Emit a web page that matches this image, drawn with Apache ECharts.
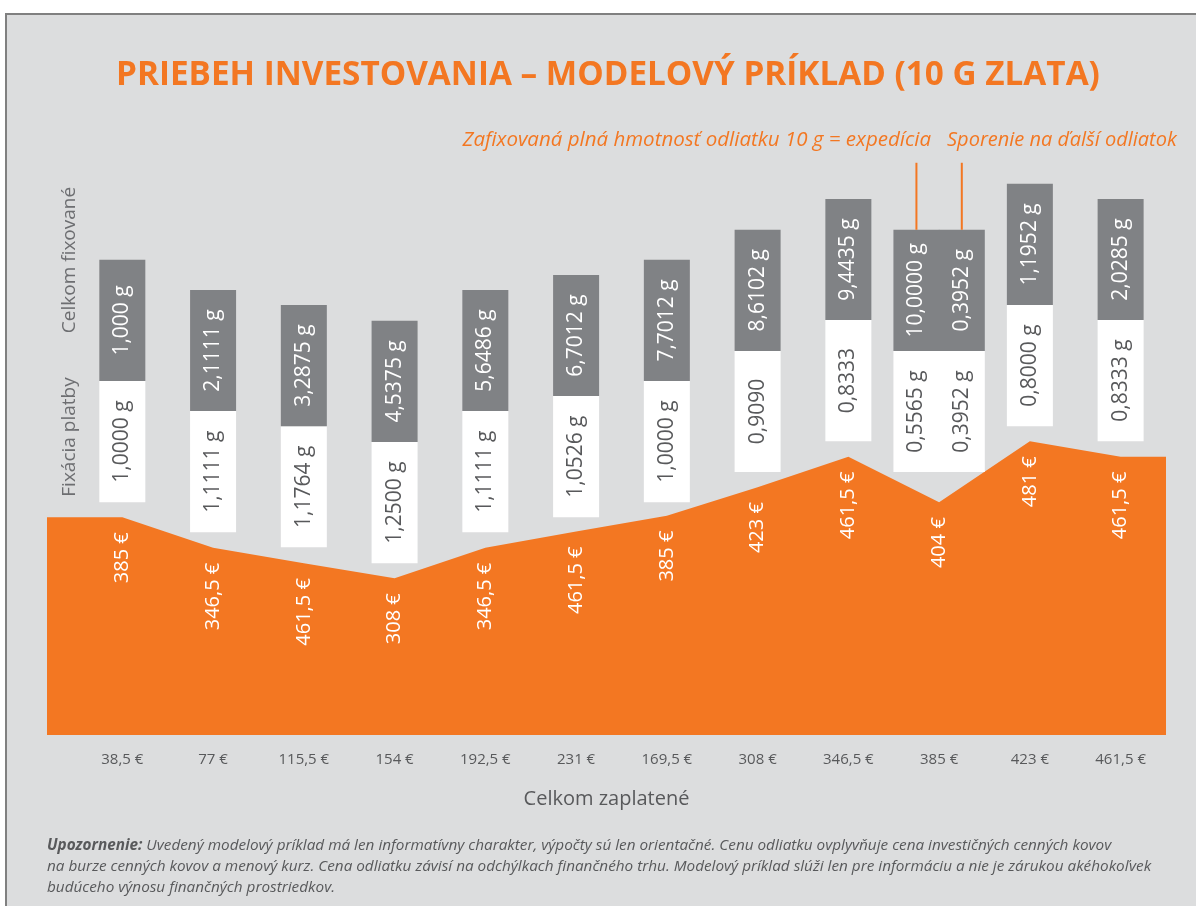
<!DOCTYPE html>
<html>
<head>
<meta charset="utf-8">
<title>Priebeh investovania</title>
<script src="https://cdn.jsdelivr.net/npm/echarts@6/dist/echarts.min.js"></script>
<style>
	html, body { margin: 0; padding: 0; background: #fff; }
	#frame { position: absolute; left: 5px; top: 13px; right: 0; bottom: 0; background: #dcddde; border-top: 2px solid #808080; border-left: 2px solid #808080; }
	#chart { position: absolute; left: 0; top: 0; width: 1196px; height: 906px; }
</style>
</head>
<body>
<div id="frame"></div>
<div id="chart"></div>
<script>
// popisky osi x - celkom zaplatene
var xLabels = ['38,5 €', '77 €', '115,5 €', '154 €', '192,5 €', '231 €', '169,5 €', '308 €', '346,5 €', '385 €', '423 €', '461,5 €'];
// aktualna cena odliatku - text v oranzovej ploche
var priceLabels = ['385 €', '346,5 €', '461,5 €', '308 €', '346,5 €', '461,5 €', '385 €', '423 €', '461,5 €', '404 €', '481 €', '461,5 €'];
// vyska oranzovej plochy (EUR), odcitane z obrazku
var priceLevel = [385, 346.5, 327, 308, 346.5, 367, 387, 423, 461.5, 404, 481, 461.5];

// stlpce (10. stlpec je rozdeleny na dva)
var barX = [1, 2, 3, 4, 5, 6, 7, 8, 9, 9.75, 10.25, 11, 12];
// spodok bieleho boxu (EUR)
var barBase = [404, 366, 347, 327, 366, 385, 404, 442, 481, 442, 442, 500, 481];
// Fixacia platby
var fixLabels = ['1,0000 g', '1,1111 g', '1,1764 g', '1,2500 g', '1,1111 g', '1,0526 g', '1,0000 g', '0,9090', '0,8333', '0,5565 g', '0,3952 g', '0,8000 g', '0,8333 g'];
// Celkom fixovane
var totalLabels = ['1,000 g', '2,1111 g', '3,2875 g', '4,5375 g', '5,6486 g', '6,7012 g', '7,7012 g', '8,6102 g', '9,4435 g', '10,0000 g', '0,3952 g', '1,1952 g', '2,0285 g'];

var ORANGE = '#f37722';
var GRAY = '#808285';
var DARK = '#58595b';
var FONT = '"Open Sans", "Noto Sans", sans-serif';
var SEG = 153;          // vyska boxu v jednotkach osi y
var X_MIN = 0.17, X_MAX = 12.5;
var POINTED = [9, 10];  // stlpce s ciarou k popisu

window.GoldChart = (function(module) {

	function init() {
		var myChart = echarts.init(document.getElementById('chart'));
		myChart.setOption(buildOption());
	}

	// biely a sivy box
	function renderBar(params, api) {
		var i = params.dataIndex;
		var x = api.value(0), b = api.value(1);
		var p0 = api.coord([x, b]);
		var p1 = api.coord([x, b + SEG]);
		var p2 = api.coord([x, b + 2 * SEG]);
		var w = 46;
		var font = '21px ' + FONT;
		var children = [
			{type: 'rect', shape: {x: p0[0] - w / 2, y: p1[1], width: w, height: p0[1] - p1[1]}, style: {fill: '#fff'}},
			{type: 'rect', shape: {x: p0[0] - w / 2, y: p2[1], width: w, height: p1[1] - p2[1]}, style: {fill: GRAY}},
			{type: 'text', x: p0[0], y: (p0[1] + p1[1]) / 2, rotation: Math.PI / 2,
				style: {text: fixLabels[i], fill: DARK, font: font, align: 'center', verticalAlign: 'middle'}},
			{type: 'text', x: p0[0], y: (p1[1] + p2[1]) / 2, rotation: Math.PI / 2,
				style: {text: totalLabels[i], fill: '#fff', font: font, align: 'center', verticalAlign: 'middle'}}
		];
		if (POINTED.indexOf(i) >= 0) {
			children.push({type: 'line', shape: {x1: p2[0], y1: p2[1], x2: p2[0], y2: p2[1] - 67},
				style: {stroke: ORANGE, lineWidth: 2}});
		}
		return {type: 'group', children: children};
	}

	// cena v oranzovej ploche
	function renderPrice(params, api) {
		var p = api.coord([api.value(0), api.value(1)]);
		return {type: 'text', x: p[0], y: p[1] + 15, rotation: Math.PI / 2,
			style: {text: priceLabels[params.dataIndex], fill: '#fff', font: '20px ' + FONT, align: 'right', verticalAlign: 'middle'}};
	}

	function buildOption() {
		var areaData = [[X_MIN, priceLevel[0]]];
		var priceData = [];
		var barData = [];
		var tickValues = [];
		for (var i = 0; i < priceLevel.length; i++) {
			areaData.push([i + 1, priceLevel[i]]);
			priceData.push([i + 1, priceLevel[i]]);
			tickValues.push(i + 1);
		}
		areaData.push([X_MAX, priceLevel[priceLevel.length - 1]]);
		for (var j = 0; j < barX.length; j++) {
			barData.push([barX[j], barBase[j]]);
		}

		var note = function(txt, y) {
			return {type: 'text', x: 47, y: y,
				style: {text: txt, fill: '#58595b', fontSize: 15.3, fontStyle: 'italic', fontFamily: FONT, verticalAlign: 'middle',
					rich: {b: {fontWeight: 'bold', fontStyle: 'italic', fontSize: 15.3, fontFamily: FONT, fill: '#58595b'}}}};
		};
		var sideLabel = function(txt, y, color) {
			return {type: 'text', x: 70, y: y, rotation: Math.PI / 2,
				style: {text: txt, fill: color, font: '19px ' + FONT, align: 'center', verticalAlign: 'middle'}};
		};

		var option = {
			animation: false,
			backgroundColor: 'transparent',
			title: {
				text: 'PRIEBEH INVESTOVANIA – MODELOVÝ PRÍKLAD (10 G ZLATA)',
				left: 111,
				top: 54,
				textStyle: {color: ORANGE, fontSize: 33.3, fontWeight: 'bold', fontFamily: FONT}
			},
			grid: {left: 47, right: 30, top: 149, bottom: 171},
			xAxis: {
				type: 'value',
				min: X_MIN,
				max: X_MAX,
				name: 'Celkom zaplatené',
				nameLocation: 'middle',
				nameGap: 54,
				nameTextStyle: {color: DARK, fontSize: 20, fontFamily: FONT},
				axisLine: {show: false},
				axisTick: {show: false},
				splitLine: {show: false},
				axisLabel: {
					customValues: tickValues,
					margin: 17,
					color: DARK,
					fontSize: 15,
					fontFamily: FONT,
					formatter: function(v) { return xLabels[Math.round(v) - 1]; }
				}
			},
			yAxis: {
				type: 'value',
				min: 110,
				max: 850,
				show: false
			},
			series: [
				{
					name: 'Aktuálna cena odliatku',
					type: 'line',
					data: areaData,
					symbol: 'none',
					lineStyle: {width: 0},
					areaStyle: {color: ORANGE, opacity: 1},
					z: 1
				},
				{
					name: 'Fixácia',
					type: 'custom',
					renderItem: renderBar,
					data: barData,
					z: 3
				},
				{
					name: 'Cena',
					type: 'custom',
					renderItem: renderPrice,
					data: priceData,
					z: 4
				}
			],
			graphic: [
				{type: 'text', x: 931, y: 140,
					style: {text: 'Zafixovaná plná hmotnosť odliatku 10 g = expedícia', fill: ORANGE, font: 'italic 20.5px ' + FONT, align: 'right', verticalAlign: 'middle'}},
				{type: 'text', x: 947, y: 140,
					style: {text: 'Sporenie na ďalší odliatok', fill: ORANGE, font: 'italic 20px ' + FONT, align: 'left', verticalAlign: 'middle'}},
				sideLabel('Celkom fixované', 260, '#6d6e71'),
				sideLabel('Fixácia platby', 437, '#6d6e71'),
				sideLabel('Aktuálna cena odliatku', 627, '#fff'),
				note('{b|Upozornenie:} Uvedený modelový príklad má len informatívny charakter, výpočty sú len orientačné. Cenu odliatku ovplyvňuje cena investičných cenných kovov', 846),
				note('na burze cenných kovov a menový kurz. Cena odliatku závisí na odchýlkach finančného trhu. Modelový príklad slúži len pre informáciu a nie je zárukou akéhokoľvek', 867),
				note('budúceho výnosu finančných prostriedkov.', 888)
			]
		};
		return option;
	}

	module.init = init;
	return module;
}(window.GoldChart || {}));

GoldChart.init();
</script>
</body>
</html>
